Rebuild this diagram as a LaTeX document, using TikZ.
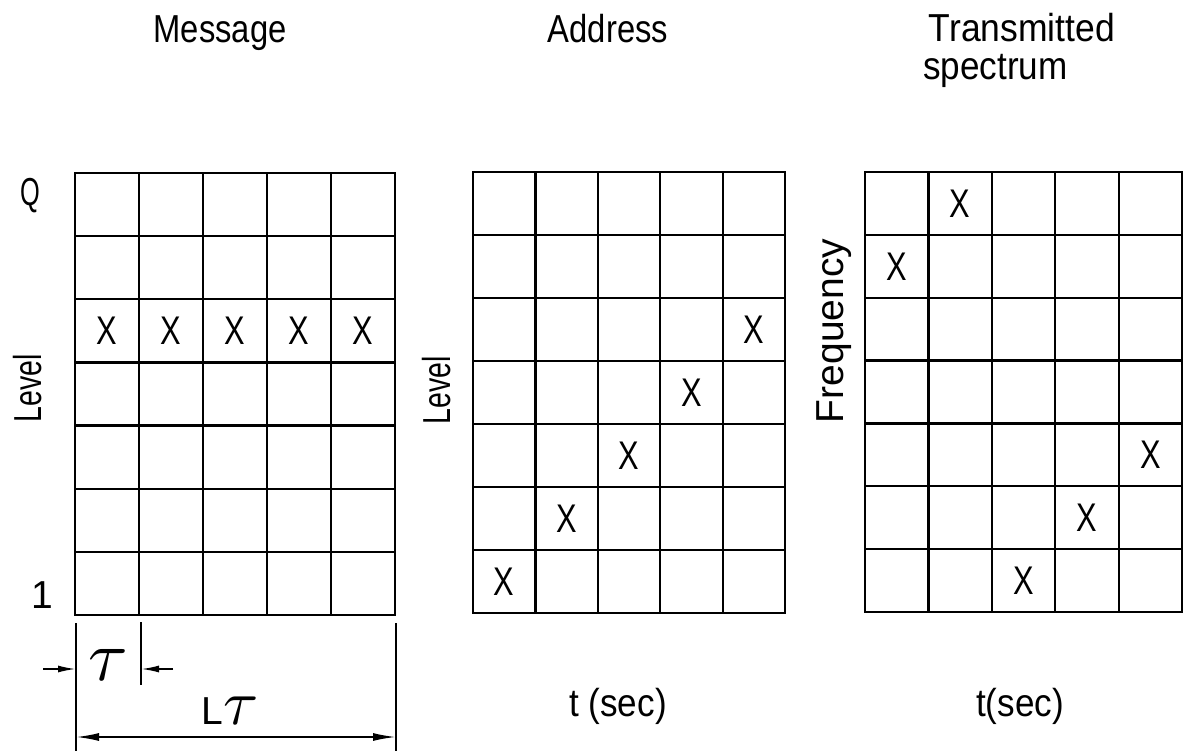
\documentclass[tikz,border=0pt]{standalone}
\usepackage{fontspec}
\setmainfont{Liberation Sans}
\usetikzlibrary{arrows.meta}
\newcommand\sx[2]{\scalebox{#1}[1]{#2}}
\newcommand\bigtau[1]{\scalebox{#1}{\fontsize{10}{10}\selectfont$\tau$}}
\newcommand\mygrid[4]{%
  \draw[gridline] (#1,#2) rectangle (#3,#4);
  \foreach \i in {1,...,4} \draw[gridline] ({#1+\i*(#3-#1)/5},#2) -- ({#1+\i*(#3-#1)/5},#4);
  \foreach \j in {1,...,6} \draw[gridline] (#1,{#2+\j*(#4-#2)/7}) -- (#3,{#2+\j*(#4-#2)/7});
}
\begin{document}
\begin{tikzpicture}[x=1pt,y=-1pt,
  gridline/.style={line width=2.2pt, line cap=rect},
  lab/.style={inner sep=0pt, font=\fontsize{39}{38}\selectfont},
  xmark/.style={inner sep=0pt, font=\fontsize{40}{40}\selectfont},
  ext/.style={line width=1.8pt},
  dim/.style={line width=1.8pt, -{Latex[length=18pt,width=7pt]}},
  dimboth/.style={line width=1.8pt, {Latex[length=23pt,width=8pt]}-{Latex[length=23pt,width=8pt]}},
]
\useasboundingbox (0,0) rectangle (1186,751);

% titles
\node[lab, anchor=base] (tmsg) at (220,43) {\sx{0.84}{Message}};
\node[lab, anchor=base] (taddr) at (608,43) {\sx{0.84}{Address}};
\node[lab, anchor=base] (ttr) at (1022,42) {\sx{0.91}{Transmitted}};
\node[lab, anchor=base west] (tsp) at (923,80) {\sx{0.9}{spectrum}};

% grids
\mygrid{75}{173}{395}{615}
\mygrid{473}{172}{785}{613}
\mygrid{865}{172}{1182}{612}

% grid 1 marks (row 3, all columns)
\foreach \c in {1,...,5}
  \node[xmark] (m\c) at ({75+(\c-0.5)*64},{173+2.5*442/7}) {\sx{0.77}{X}};

% grid 2 marks
\foreach \c/\r in {1/7,2/6,3/5,4/4,5/3}
  \node[xmark] (a\c) at ({473+(\c-0.5)*312/5},{172+(\r-0.5)*63}) {\sx{0.77}{X}};

% grid 3 marks
\foreach \c/\r in {2/1,1/2,5/5,4/6,3/7}
  \node[xmark] (s\c) at ({865+(\c-0.5)*317/5},{172+(\r-0.5)*440/7}) {\sx{0.77}{X}};

% axis labels
\node[lab] (q) at (30,196) {\sx{0.65}{Q}};
\node[lab] (one) at (42,595) {1};
\node[lab, rotate=90] (lvl1) at (28,388) {\sx{0.73}{Level}};
\node[lab, rotate=90] (lvl2) at (437,390) {\sx{0.73}{Level}};
\node[lab, rotate=90] (freq) at (834,331) {Frequency};
\node[lab] (t1) at (618,706) {\sx{0.9}{t (sec)}};
\node[lab] (t2) at (1020,706) {\sx{0.9}{t(sec)}};

% dimensioning
\coordinate (e1t) at (76,623); \coordinate (e1b) at (76,751);
\coordinate (e2t) at (141,622); \coordinate (e2b) at (141,685);
\coordinate (e3t) at (396,623); \coordinate (e3b) at (396,751);
\draw[ext] (e1t) -- (e1b);
\draw[ext] (e2t) -- (e2b);
\draw[ext] (e3t) -- (e3b);
\coordinate (a1s) at (43,669); \coordinate (a1e) at (76,669);
\coordinate (a2s) at (173,669); \coordinate (a2e) at (141,669);
\draw[dim] (a1s) -- (a1e);
\draw[dim] (a2s) -- (a2e);
\node[inner sep=0pt] (tau) at (108,665) {\bigtau{7.2}};
\coordinate (l1) at (76,737); \coordinate (l2) at (396,737);
\draw[dimboth] (l1) -- (l2);
\node[lab, anchor=base] (ltau) at (230,724) {L\bigtau{6.4}};
\end{tikzpicture}
\end{document}
